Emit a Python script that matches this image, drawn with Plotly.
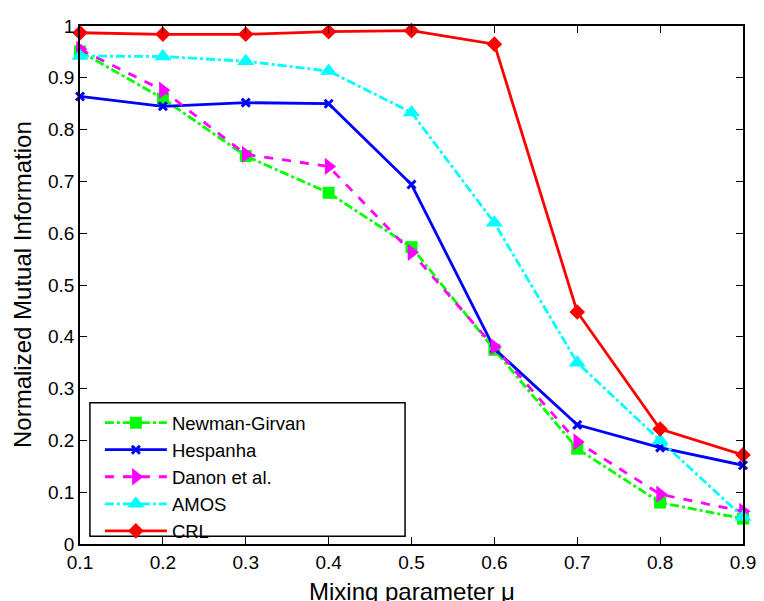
import plotly.graph_objects as go

mu = [0.1, 0.2, 0.3, 0.4, 0.5, 0.6, 0.7, 0.8, 0.9]

newman_girvan = [0.951, 0.860, 0.749, 0.678, 0.573, 0.375, 0.184, 0.080, 0.049]
hespanha = [0.864, 0.845, 0.852, 0.850, 0.694, 0.377, 0.230, 0.186, 0.152]
danon = [0.955, 0.876, 0.752, 0.729, 0.563, 0.381, 0.197, 0.096, 0.063]
amos = [0.942, 0.941, 0.932, 0.913, 0.833, 0.620, 0.350, 0.200, 0.052]
crl = [0.987, 0.984, 0.984, 0.989, 0.991, 0.965, 0.448, 0.222, 0.172]

x_ticks = [0.1, 0.2, 0.3, 0.4, 0.5, 0.6, 0.7, 0.8, 0.9]
x_labels = ["0.1", "0.2", "0.3", "0.4", "0.5", "0.6", "0.7", "0.8", "0.9"]
y_ticks = [0, 0.1, 0.2, 0.3, 0.4, 0.5, 0.6, 0.7, 0.8, 0.9, 1.0]
y_labels = ["0", "0.1", "0.2", "0.3", "0.4", "0.5", "0.6", "0.7", "0.8", "0.9", "1"]

FONT = "Liberation Sans, Arial, sans-serif"

series = [
    ("Newman-Girvan", newman_girvan, "#00ff00", "dashdot", "square", 12, 0),
    ("Hespanha", hespanha, "#0000ff", "solid", "x-thin-open", 8, 3),
    ("Danon et al.", danon, "#ff00ff", "dash", "triangle-right", 15, 0),
    ("AMOS", amos, "#00ffff", "dashdot", "triangle-up", 15, 0),
    ("CRL", crl, "#ff0000", "solid", "diamond", 12, 0),
]

fig = go.Figure()
for name, vals, color, dash, sym, size, mlw in series:
    marker = dict(symbol=sym, size=size, color=color)
    if mlw:
        marker["line"] = dict(color=color, width=mlw)
    else:
        marker["line"] = dict(width=0)
    fig.add_trace(go.Scatter(
        x=mu, y=vals, name=name, mode="lines+markers",
        line=dict(color=color, width=2.8, dash=dash),
        marker=marker, cliponaxis=False,
    ))

# page body has an 8px margin; size the figure so the plot lands where the reference has it
fig.update_layout(
    width=756, height=593,
    margin=dict(l=72, r=15, t=8, b=57),
    paper_bgcolor="white", plot_bgcolor="white",
    font=dict(family=FONT, color="black", size=19),
    showlegend=True,
    legend=dict(
        x=0.03, y=0.27, xanchor="left", yanchor="top",
        bgcolor="rgba(0,0,0,0)", borderwidth=0,
        font=dict(family=FONT, size=18.5, color="black"),
        itemwidth=62, tracegroupgap=0,
    ),
    shapes=[dict(
        type="rect", xref="paper", yref="paper",
        x0=(90 - 80) / 669, x1=(408 - 80) / 669,
        y0=(544 - 536) / 528, y1=(544 - 400) / 528,
        line=dict(color="black", width=1.5), fillcolor="white", layer="above",
    )],
    annotations=[
        dict(text="Mixing parameter μ", xref="paper", yref="paper",
             x=0.5, y=0, yshift=-47, xanchor="center", yanchor="middle",
             showarrow=False, font=dict(family=FONT, size=24, color="black")),
        dict(text="Normalized Mutual Information", xref="paper", yref="paper",
             x=0, y=0.5, xshift=-58, xanchor="center", yanchor="middle",
             textangle=-90, showarrow=False,
             font=dict(family=FONT, size=24, color="black")),
    ],
)

fig.update_xaxes(
    range=[0.1, 0.9], tickvals=x_ticks, ticktext=x_labels,
    ticks="inside", ticklen=7, tickwidth=1, tickcolor="black",
    showline=True, linecolor="black", linewidth=1.5, mirror="ticks",
    showgrid=False, zeroline=False, ticklabeloverflow="allow",
    tickfont=dict(family=FONT, size=19, color="black"),
)
fig.update_yaxes(
    range=[0, 1.0], tickvals=y_ticks, ticktext=y_labels,
    ticks="inside", ticklen=7, tickwidth=1, tickcolor="black",
    showline=True, linecolor="black", linewidth=1.5, mirror="ticks",
    showgrid=False, zeroline=False, ticklabeloverflow="allow",
    tickfont=dict(family=FONT, size=19, color="black"),
)

fig.write_html("out.html")
